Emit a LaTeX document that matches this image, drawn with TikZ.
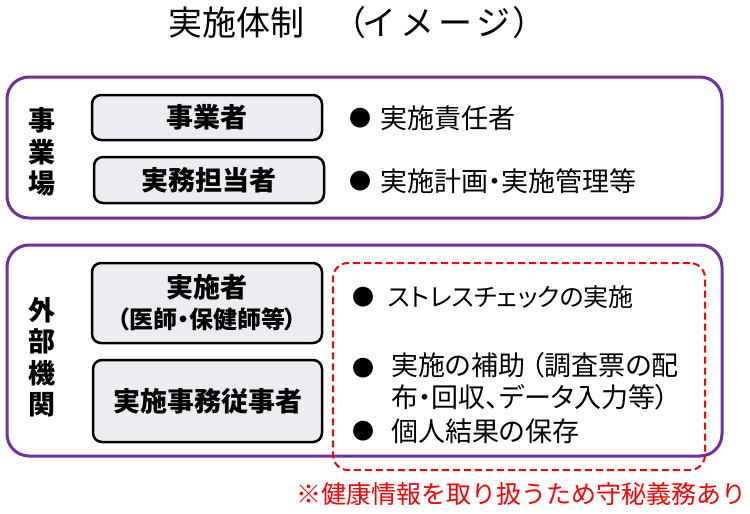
\documentclass[tikz,border=0pt]{standalone}
\usepackage{fontspec}
\setmainfont{Noto Sans CJK JP}
\newfontfamily\jpp{Noto Sans CJK JP}[RawFeature=+palt]
\definecolor{purp}{HTML}{7030A0}
\definecolor{boxfill}{HTML}{EEECF1}
\definecolor{notered}{HTML}{FF0000}
\begin{document}
\begin{tikzpicture}[x=1pt,y=-1pt,
  group/.style={draw=purp, line width=3pt, rounded corners=22pt, inner sep=0pt},
  role/.style={draw=black, line width=2.5pt, fill=boxfill, rounded corners=9pt,
    inner sep=0pt, align=center, font=\fontsize{27}{30}\selectfont\bfseries},
  vlabel/.style={align=center, font=\fontsize{27}{31.5}\selectfont\bfseries},
  bul/.style={font=\fontsize{22}{24}\selectfont},
  item/.style={anchor=west, inner sep=0pt, align=left,
    font=\jpp\fontsize{27}{32}\selectfont},
  dashbox/.style={draw=notered, line width=2pt, dash pattern=on 7pt off 4pt,
    rounded corners=15pt, inner sep=0pt}]
\useasboundingbox (0,0) rectangle (750,514);
% title
\node[font=\fontsize{34}{36}\selectfont, inner sep=0pt, anchor=west] (title) at (168,23)
  {実施体制\hspace{28pt}（\hspace{-4pt}イ\hspace{4pt}メ\hspace{4pt}ー\hspace{4pt}ジ\hspace{2pt}）};
% groups
\node[group, minimum width=715, minimum height=141] (site) at (364.5,147.5) {};
\node[group, minimum width=715, minimum height=211] (ext) at (364.5,350.5) {};
\node[vlabel] (sitelbl) at (42,152) {事\\業\\場};
\node[vlabel] (extlbl) at (42,357) {外\\部\\機\\関};
% role boxes
\node[role, minimum width=230, minimum height=45] (employer) at (207,117.5) {事業者};
\node[role, minimum width=230, minimum height=46] (staff) at (209,180) {実務担当者};
\node[role, minimum width=230, minimum height=80] (doer) at (207,303)
  {実施者\\[1pt]{\jpp\fontsize{24}{26}\selectfont\bfseries （医師・保健師等）}};
\node[role, minimum width=229, minimum height=82] (clerk) at (207.5,401) {実施事務従事者};
% dashed box
\node[dashbox, minimum width=372, minimum height=207] (duty) at (519,366.5) {};
% top items
\node[bul] (b1) at (360,118) {●};
\node[item] (t1) at (380,118) {実施責任者};
\node[bul] (b2) at (360,181) {●};
\node[item] (t2) at (380,181) {実施計画・実施管理等};
% bottom items
\node[bul] (b3) at (363,297) {●};
\node[item, font=\jpp\fontsize{25}{32}\selectfont] (t3) at (388,297) {ストレスチェックの実施};
\node[bul] (b4) at (363,368) {●};
\node[item, anchor=north west] (t4) at (391,352) {実施の補助\hspace{6pt}（調査票の配\\布・回収、データ入力等）};
\node[bul] (b5) at (363,431) {●};
\node[item] (t5) at (391,431) {個人結果の保存};
% note
\node[anchor=east, inner sep=0pt, text=notered, font=\fontsize{25}{28}\selectfont] (note) at (747,494) {※健康情報を取り扱うため守秘義務あり};
\end{tikzpicture}
\end{document}
